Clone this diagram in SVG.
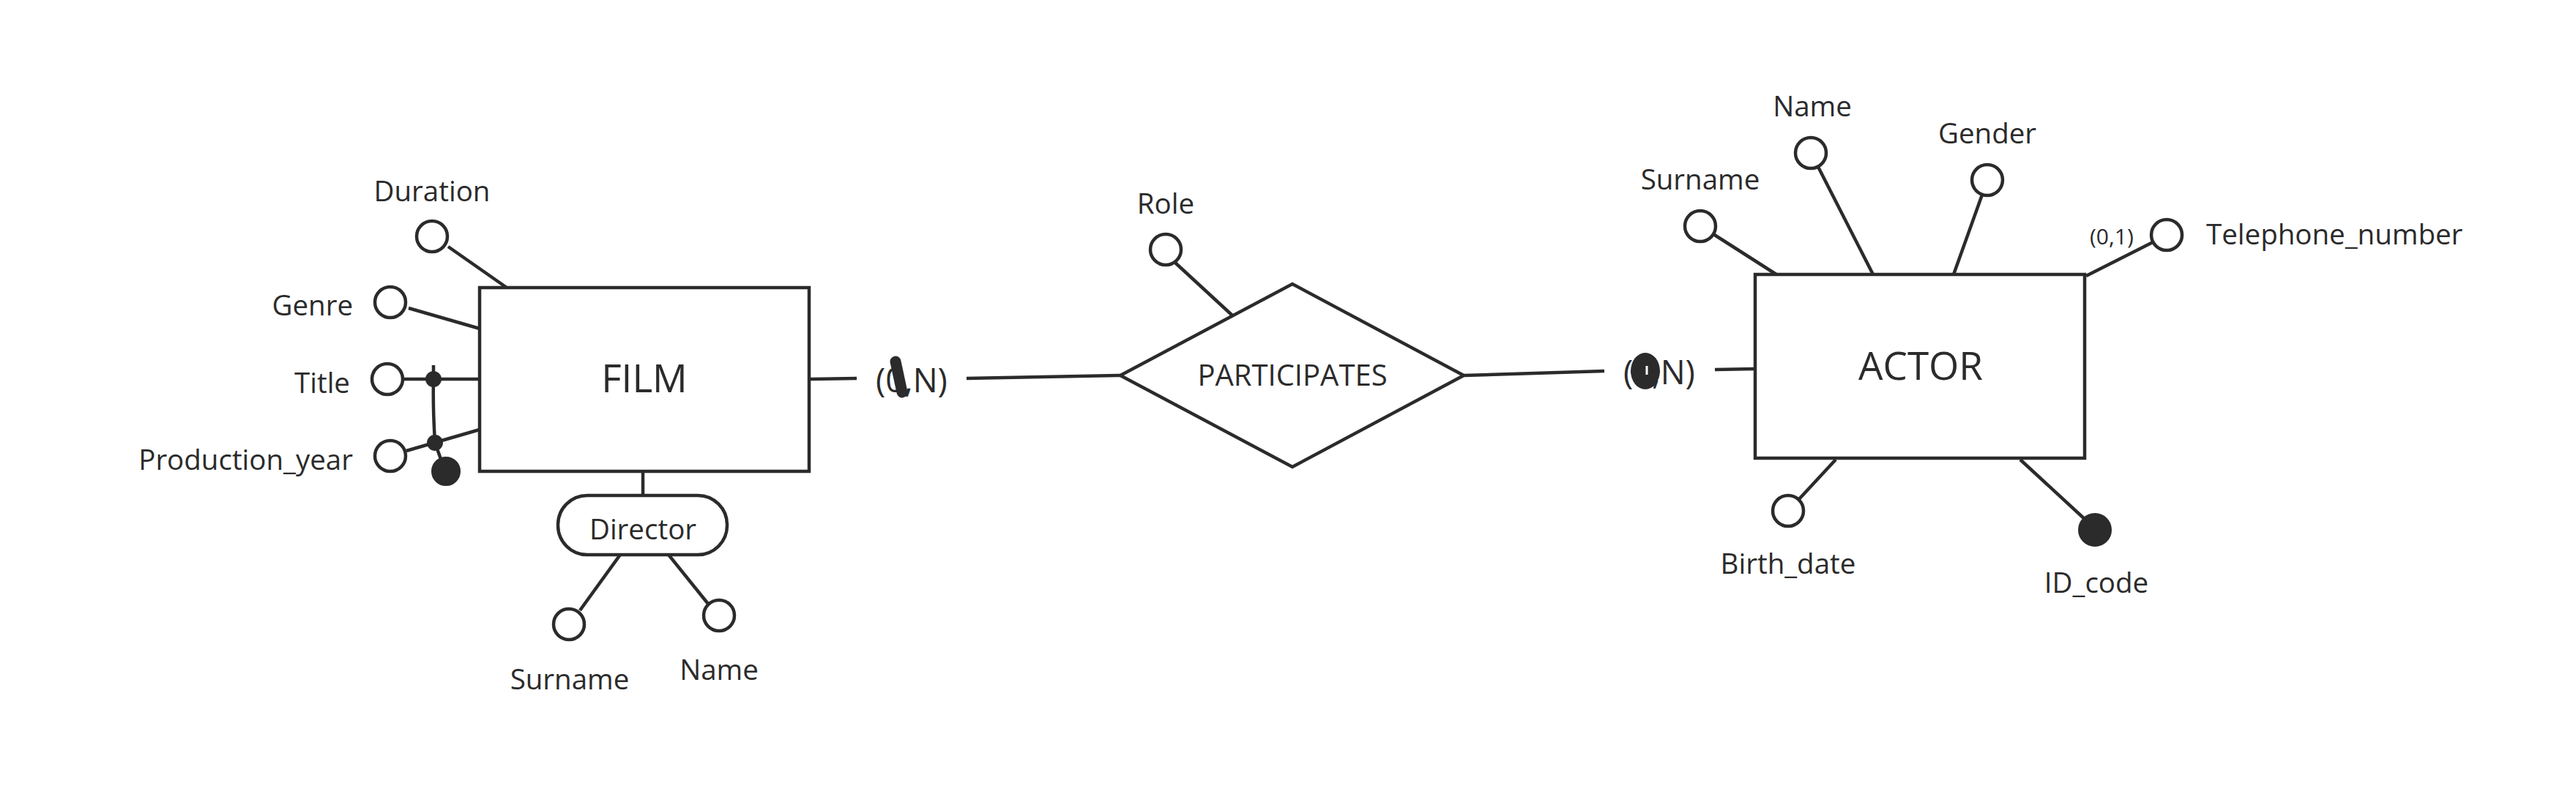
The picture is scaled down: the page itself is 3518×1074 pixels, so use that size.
<svg xmlns="http://www.w3.org/2000/svg" width="3518" height="1074" viewBox="0 0 3518 1074">
<style>
.bg{fill:#ffffff}
.shape{fill:#ffffff;stroke:#2b2b2b;stroke-width:4.5}
.attr{fill:#ffffff;stroke:#2b2b2b;stroke-width:4.5}
.key{fill:#2b2b2b;stroke:#2b2b2b;stroke-width:2}
.ln{fill:none;stroke:#2b2b2b;stroke-width:4.5}
text{font-family:"Open Sans","Noto Sans","DejaVu Sans",sans-serif;fill:#2b2b2b}
.lbl{font-size:38.5px}
.ent{font-size:53px;text-anchor:middle}
.rel{font-size:40px;text-anchor:middle}
.card{font-size:45px;text-anchor:middle}
.mid{text-anchor:middle}
.end{text-anchor:end}
</style>
<rect class="bg" x="0" y="0" width="3518" height="1074"/>
<g id="connectors">
  <line class="ln" x1="612" y1="337" x2="692" y2="393"/>
  <line class="ln" x1="558" y1="421" x2="655" y2="449"/>
  <line class="ln" x1="551" y1="518" x2="655" y2="518"/>
  <line class="ln" x1="555" y1="616" x2="655" y2="587"/>
  <path class="ln" d="M592 499 L592 518 C591 560 593 585 594 605 L603 630"/>
  <line class="ln" x1="1107" y1="518" x2="1170" y2="517"/>
  <line class="ln" x1="1320" y1="517" x2="1530" y2="513"/>
  <line class="ln" x1="1605" y1="359" x2="1683" y2="431"/>
  <line class="ln" x1="1999" y1="513" x2="2191" y2="507"/>
  <line class="ln" x1="2342" y1="505" x2="2397" y2="504"/>
  <line class="ln" x1="878" y1="644" x2="878" y2="677"/>
  <line class="ln" x1="792" y1="834" x2="847" y2="758"/>
  <line class="ln" x1="967" y1="825" x2="913" y2="758"/>
  <line class="ln" x1="2340" y1="320" x2="2426" y2="375"/>
  <line class="ln" x1="2483" y1="228" x2="2558" y2="375"/>
  <line class="ln" x1="2707" y1="266" x2="2668" y2="375"/>
  <line class="ln" x1="2940" y1="331" x2="2849" y2="377"/>
  <line class="ln" x1="2456" y1="683" x2="2507" y2="628"/>
  <line class="ln" x1="2759" y1="628" x2="2850" y2="712"/>
</g>
<g id="film">
  <rect class="shape" x="655" y="393" width="450" height="251"/>
  <text class="ent" x="880" y="536">FILM</text>
</g>
<g id="film-duration">
  <circle class="attr" cx="590" cy="323" r="21"/>
  <text class="lbl mid" x="590" y="275">Duration</text>
</g>
<g id="film-genre">
  <circle class="attr" cx="533" cy="413" r="21"/>
  <text class="lbl end" x="482" y="431">Genre</text>
</g>
<g id="film-title">
  <circle class="attr" cx="529" cy="518" r="21"/>
  <text class="lbl end" x="478" y="537">Title</text>
</g>
<g id="film-production-year">
  <circle class="attr" cx="533" cy="623" r="21"/>
  <text class="lbl end" x="482" y="642">Production_year</text>
</g>
<g id="film-identifier">
  <circle class="key" cx="592" cy="518" r="10"/>
  <circle class="key" cx="594" cy="605" r="10"/>
  <circle class="key" cx="609" cy="644" r="19"/>
</g>
<g id="director">
  <rect class="shape" x="762" y="677" width="231" height="81" rx="40" ry="40"/>
  <text class="lbl mid" x="878" y="737">Director</text>
</g>
<g id="director-surname">
  <circle class="attr" cx="777" cy="853" r="21"/>
  <text class="lbl mid" x="778" y="942">Surname</text>
</g>
<g id="director-name">
  <circle class="attr" cx="982" cy="841" r="21"/>
  <text class="lbl mid" x="982" y="929">Name</text>
</g>
<g id="card-film">
  <text class="card" x="1245" y="536">(0,N)</text>
  <line x1="1223" y1="494" x2="1232" y2="536" stroke="#2b2b2b" stroke-width="15" stroke-linecap="round"/>
</g>
<g id="participates">
  <polygon class="shape" points="1530,513 1765,388 1999,513 1765,638"/>
  <text class="rel" x="1765" y="527">PARTICIPATES</text>
</g>
<g id="participates-role">
  <circle class="attr" cx="1592" cy="341" r="21"/>
  <text class="lbl mid" x="1592" y="292">Role</text>
</g>
<g id="card-actor">
  <text class="card" x="2266" y="525">(0,N)</text>
  <ellipse cx="2247" cy="507" rx="20" ry="25" fill="#2b2b2b"/>
  <line x1="2249" y1="500" x2="2249" y2="512" stroke="#ffffff" stroke-width="3"/>
</g>
<g id="actor">
  <rect class="shape" x="2397" y="375" width="450" height="251"/>
  <text class="ent" x="2623" y="519">ACTOR</text>
</g>
<g id="actor-surname">
  <circle class="attr" cx="2322" cy="309" r="21"/>
  <text class="lbl mid" x="2322" y="259">Surname</text>
</g>
<g id="actor-name">
  <circle class="attr" cx="2473" cy="209" r="21"/>
  <text class="lbl mid" x="2475" y="159">Name</text>
</g>
<g id="actor-gender">
  <circle class="attr" cx="2714" cy="246" r="21"/>
  <text class="lbl mid" x="2714" y="196">Gender</text>
</g>
<g id="actor-telephone">
  <circle class="attr" cx="2959" cy="321" r="21"/>
  <text x="2854" y="334" font-size="30">(0,1)</text>
  <text class="lbl" x="3013" y="334">Telephone_number</text>
</g>
<g id="actor-birth-date">
  <circle class="attr" cx="2442" cy="698" r="21"/>
  <text class="lbl mid" x="2442" y="784">Birth_date</text>
</g>
<g id="actor-id-code">
  <circle class="key" cx="2861" cy="724" r="22"/>
  <text class="lbl mid" x="2863" y="810">ID_code</text>
</g>
</svg>
